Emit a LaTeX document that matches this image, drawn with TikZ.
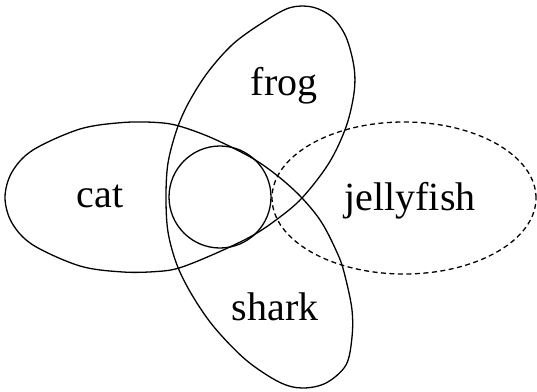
\documentclass[tikz,border=0pt]{standalone}
\usepackage{fontspec}
\setmainfont{Liberation Serif}
\begin{document}
\begin{tikzpicture}[x=1pt,y=-1pt,
  curve/.style={line width=1.3pt},
  dashcurve/.style={line width=1.3pt,dash pattern=on 5pt off 3.5pt},
  lbl/.style={font=\fontsize{40}{48}\selectfont,anchor=base,inner sep=0pt}]
\useasboundingbox (0,0) rectangle (537,391);
% three-lobed closed curve (cat, frog, shark)
\draw[curve] plot[smooth cycle,tension=0.55] coordinates {
  (5,197.5) (12,172) (33,150) (80,129) (123,122.5) (157,122.5) (179,126)
  (212,138) (252,158) (279,177) (302,198)
  (322,223) (339,257) (346,280) (352,310) (352,337) (346,365) (326,383)
  (302,388) (279,382) (246,360) (214,327) (192,295) (177,265)
  (168,232) (166,197.5) (168,163) (177,129) (189,102) (208,72) (233,44)
  (262,23) (289,8) (312,7) (332,17) (346,37) (354,67) (354,93) (346,127)
  (329,163) (302,198) (276,220) (250,237) (212,255) (179,268) (157,271.5)
  (123,272) (80,266) (33,245) (12,223)};
% inner circle
\draw[curve] (220,197) circle[radius=51pt];
% jellyfish
\draw[dashcurve] (404,198) ellipse[x radius=132pt,y radius=76pt];
\node[lbl] (cat) at (100,207) {cat};
\node[lbl] (frog) at (284,95) {frog};
\node[lbl] (shark) at (275,320) {shark};
\node[lbl] (jellyfish) at (410,210) {jellyfish};
\end{tikzpicture}
\end{document}
